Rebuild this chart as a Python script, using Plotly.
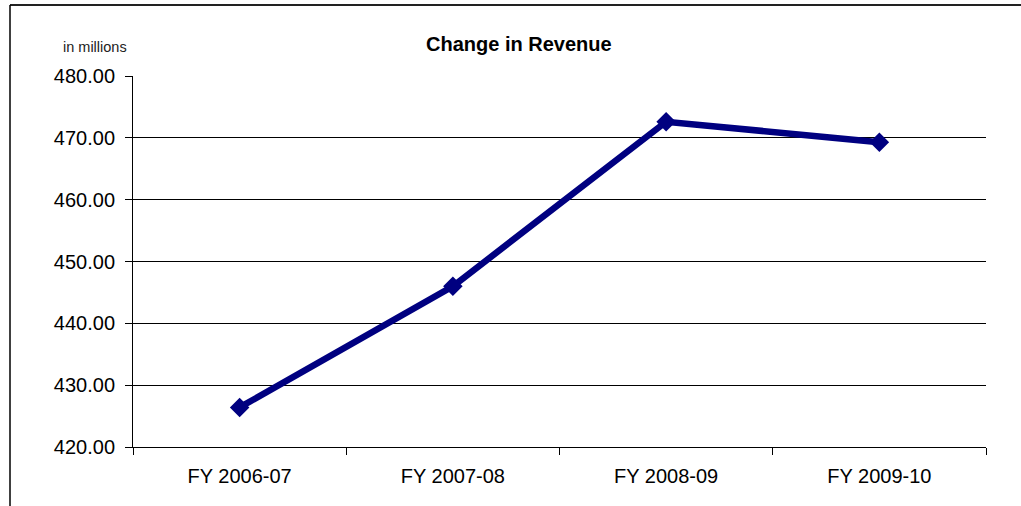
import plotly.graph_objects as go

categories = ["FY 2006-07", "FY 2007-08", "FY 2008-09", "FY 2009-10"]
revenue = [426.4, 446.0, 472.6, 469.3]
y_ticks = [420, 430, 440, 450, 460, 470, 480]
title_text = "Change in Revenue"
unit_text = "in millions"

FONT = "Liberation Sans, Arial, sans-serif"

fig = go.Figure()
fig.add_trace(go.Scatter(
    x=categories, y=revenue, mode="lines+markers",
    line=dict(color="#000080", width=6.5),
    marker=dict(symbol="diamond", size=15, color="#000080"),
    hoverinfo="skip", showlegend=False,
))

fig.update_layout(
    width=1021, height=506,
    margin=dict(l=133, r=35, t=76, b=59),
    paper_bgcolor="white", plot_bgcolor="white",
    font=dict(family=FONT, color="black"),
    xaxis=dict(
        type="category", range=[-0.5, 3.5],
        showgrid=False, showline=True, linecolor="black", linewidth=1,
        ticks="outside", tickson="boundaries", ticklen=7, tickcolor="black",
        tickfont=dict(size=20, family=FONT, color="black"),
        ticklabelstandoff=11,
        zeroline=False, fixedrange=True,
    ),
    yaxis=dict(
        range=[420, 480], tickvals=y_ticks, tickformat=".2f",
        showgrid=True, gridcolor="black", gridwidth=1,
        showline=True, linecolor="black", linewidth=1,
        ticks="outside", ticklen=7, tickcolor="black",
        tickfont=dict(size=20, family=FONT, color="black"),
        ticklabelstandoff=6,
        zeroline=False, fixedrange=True,
    ),
    annotations=[
        dict(text="<b>" + title_text + "</b>", xref="paper", yref="paper",
             x=(519 - 133) / 853, y=1 + (76 - 44) / 371,
             xanchor="center", yanchor="middle", showarrow=False,
             font=dict(size=20, family=FONT, color="black")),
        dict(text=unit_text, xref="paper", yref="paper",
             x=(94.5 - 133) / 853, y=1 + (76 - 47) / 371,
             xanchor="center", yanchor="middle", showarrow=False,
             font=dict(size=14.5, family=FONT, color="#222")),
    ],
    shapes=[
        dict(type="line", xref="paper", yref="paper",
             x0=(10 - 133) / 853, x1=(1021 - 133) / 853,
             y0=1 + (76 - 5) / 371, y1=1 + (76 - 5) / 371,
             line=dict(color="#222", width=2)),
        dict(type="line", xref="paper", yref="paper",
             x0=(10 - 133) / 853, x1=(10 - 133) / 853,
             y0=1 + (76 - 5) / 371, y1=-0.3,
             line=dict(color="black", width=1.5)),
    ],
)

fig.write_html("out.html", config={"displayModeBar": False})
